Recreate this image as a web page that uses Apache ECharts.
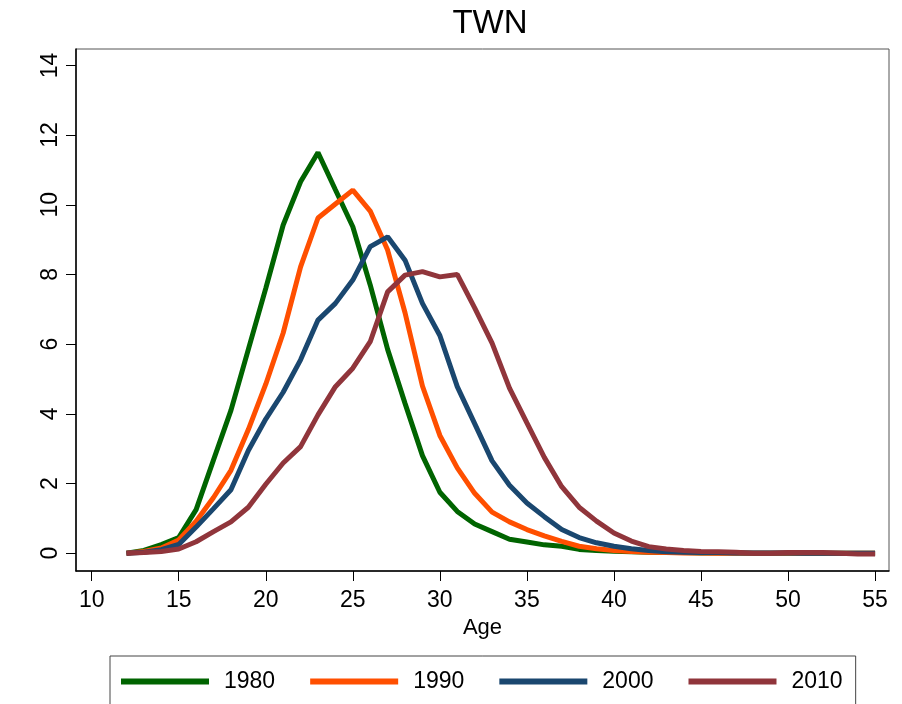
<!DOCTYPE html>
<html>
<head>
<meta charset="utf-8">
<script src="https://cdn.jsdelivr.net/npm/echarts@6/dist/echarts.min.js"></script>
<style>
  html, body { margin: 0; padding: 0; background: #fff; }
  #main { width: 902px; height: 704px; }
</style>
</head>
<body>
<div id="main"></div>
<script>
var chartDom = document.getElementById('main');
var myChart = echarts.init(chartDom);
var option;

// ages 12..55
var ages = [12, 13, 14, 15, 16, 17, 18, 19, 20, 21, 22, 23, 24, 25, 26, 27, 28, 29, 30, 31, 32, 33,
  34, 35, 36, 37, 38, 39, 40, 41, 42, 43, 44, 45, 46, 47, 48, 49, 50, 51, 52, 53, 54, 55];

var years = ['1980', '1990', '2000', '2010'];

var y1980 = [0.0, 0.08, 0.25, 0.45, 1.25, 2.68, 4.1, 5.85, 7.6, 9.42, 10.66, 11.5, 10.43, 9.37, 7.7, 5.85,
  4.3, 2.8, 1.75, 1.2, 0.84, 0.62, 0.4, 0.32, 0.24, 0.2, 0.11, 0.08, 0.06, 0.04, 0.03, 0.02,
  0.02, 0.01, 0.01, 0.01, 0.0, 0.0, 0.0, 0.0, 0.0, 0.0, 0.0, 0.0];
var y1990 = [0.0, 0.05, 0.15, 0.38, 0.92, 1.6, 2.38, 3.55, 4.85, 6.32, 8.22, 9.62, 10.02, 10.42, 9.82, 8.7,
  6.9, 4.8, 3.38, 2.45, 1.72, 1.18, 0.9, 0.68, 0.5, 0.34, 0.2, 0.13, 0.08, 0.05, 0.03, 0.02,
  0.01, 0.01, 0.0, 0.0, 0.0, 0.0, 0.0, 0.0, 0.0, 0.0, 0.0, 0.0];
var y2000 = [0.0, 0.03, 0.1, 0.25, 0.75, 1.28, 1.82, 2.95, 3.85, 4.62, 5.55, 6.69, 7.17, 7.84, 8.8, 9.08,
  8.41, 7.17, 6.25, 4.78, 3.72, 2.65, 1.95, 1.44, 1.05, 0.68, 0.45, 0.3, 0.2, 0.13, 0.08, 0.04,
  0.03, 0.02, 0.02, 0.01, 0.01, 0.01, 0.01, 0.0, 0.0, 0.0, 0.0, 0.0];
var y2010 = [0.0, 0.02, 0.05, 0.12, 0.33, 0.62, 0.9, 1.32, 1.98, 2.59, 3.06, 3.97, 4.78, 5.31, 6.07, 7.5,
  7.98, 8.08, 7.93, 8.0, 7.04, 6.03, 4.74, 3.74, 2.75, 1.91, 1.32, 0.92, 0.58, 0.35, 0.19, 0.12,
  0.08, 0.05, 0.04, 0.03, 0.0, 0.0, 0.02, 0.02, 0.02, 0.0, -0.02, -0.02];

var xTicks = [10, 15, 20, 25, 30, 35, 40, 45, 50, 55];
var yTicks = [0, 2, 4, 6, 8, 10, 12, 14];

var colors = ['#006400', '#ff4f00', '#1a476f', '#90353b'];
var FONT = 'Liberation Sans';

function pairs(vals) {
  return ages.map(function (a, i) { return [a, vals[i]]; });
}

var seriesData = [y1980, y1990, y2000, y2010];

option = {
  animation: false,
  color: colors,
  title: {
    text: 'TWN',
    left: 485,
    textAlign: 'center',
    top: 2,
    textStyle: { fontFamily: FONT, fontSize: 33, fontWeight: 'normal', color: '#000' }
  },
  grid: {
    left: 76, right: 13, top: 49, bottom: 133,
    show: true, borderColor: '#555', borderWidth: 1
  },
  legend: {
    data: years,
    left: 110,
    top: 656,
    padding: [14, 13, 30, 11],
    borderColor: '#444',
    borderWidth: 1,
    icon: 'rect',
    itemWidth: 88,
    itemHeight: 6,
    itemGap: 35,
    textStyle: { fontFamily: FONT, fontSize: 23, color: '#000', padding: [0, 0, 0, 10] }
  },
  xAxis: {
    type: 'value',
    min: 9.1,
    max: 55.8,
    name: 'Age',
    nameLocation: 'middle',
    nameGap: 46,
    nameTextStyle: { fontFamily: FONT, fontSize: 22, color: '#000' },
    axisLine: { onZero: false, lineStyle: { color: '#000', width: 1.5 } },
    axisTick: { length: 10, customValues: xTicks, lineStyle: { color: '#000' } },
    axisLabel: { customValues: xTicks, margin: 18, fontFamily: FONT, fontSize: 23, color: '#000' },
    splitLine: { show: false }
  },
  yAxis: {
    type: 'value',
    min: -0.51,
    max: 14.47,
    axisLine: { show: true, onZero: false, lineStyle: { color: '#000', width: 1.5 } },
    axisTick: { show: true, length: 10, customValues: yTicks, lineStyle: { color: '#000' } },
    axisLabel: { customValues: yTicks, rotate: 90, margin: 14, fontFamily: FONT, fontSize: 23, color: '#000' },
    splitLine: { show: false }
  },
  series: years.map(function (y, i) {
    return {
      name: y,
      type: 'line',
      data: pairs(seriesData[i]),
      showSymbol: false,
      symbol: 'none',
      lineStyle: { width: 5, color: colors[i] }
    };
  })
};

option && myChart.setOption(option);
</script>
</body>
</html>
